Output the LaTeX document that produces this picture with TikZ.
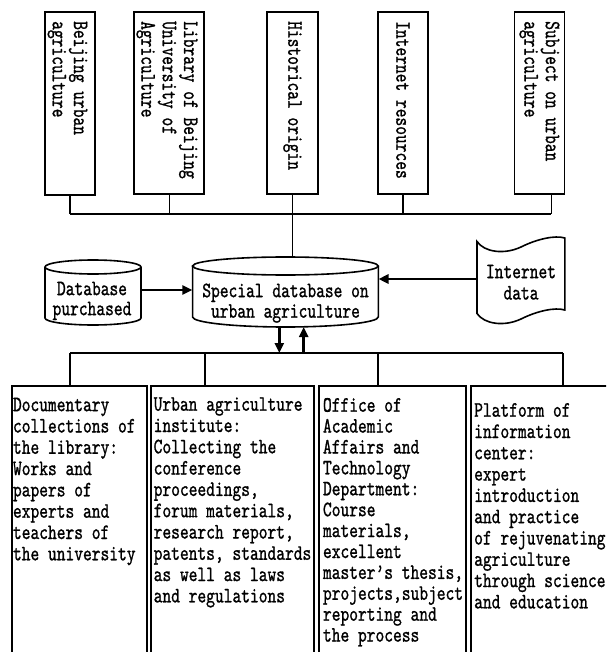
\documentclass[tikz,border=0pt]{standalone}
\usepackage{graphicx}
\usepackage{fontspec}
\newfontfamily\dfont{lmmono10-regular}[Extension=.otf,FakeStretch=0.758,FakeBold=1]
\usetikzlibrary{arrows.meta,calc}
\tikzset{
  topbox/.style={draw, line width=1.8pt, inner sep=0pt, minimum height=182pt},
  botbox/.style={draw, line width=1.8pt, inner sep=0pt, anchor=north west, minimum height=290pt},
  conn/.style={line width=1.4pt},
  fat/.style={line width=2.8pt, -{Triangle[length=10pt,width=9pt]}},
  txt/.style={inner sep=0pt, font={\dfont\fontsize{22}{21.3}\selectfont}},
  cyl/.style={line width=1.6pt},
  hold/.style={inner sep=0pt, draw=none},
}
\begin{document}
\begin{tikzpicture}[x=1pt,y=-1pt]
\useasboundingbox (0,0) rectangle (606,652);
\clip (0,0) rectangle (606,652);

% ---- top source boxes
\node[topbox, minimum width=49.5pt, minimum height=183pt] (b1) at (70.05,103.5) {};
\node[topbox, minimum width=70.1pt] (b2) at (169.25,103) {};
\node[topbox, minimum width=51.1pt] (b3) at (292.45,103) {};
\node[topbox, minimum width=49.9pt] (b4) at (402.95,103) {};
\node[topbox, minimum width=49.9pt] (b5) at (539.45,103) {};

\node[txt, anchor=north] (t1) at (67.5,21) {\rotatebox{-90}{\parbox{170pt}{\raggedright Beijing urban\\agriculture}}};
\node[txt, anchor=north] (t2) at (167,21) {\rotatebox{-90}{\parbox{170pt}{\raggedright Library of Beijing\\University of\\Agriculture}}};
\node[txt, anchor=north] (t3) at (292.45,21) {\rotatebox{-90}{\parbox{170pt}{\raggedright Historical origin}}};
\node[txt, anchor=north] (t4) at (402.95,21) {\rotatebox{-90}{\parbox{170pt}{\raggedright Internet resources}}};
\node[txt, anchor=north] (t5) at (539.45,21) {\rotatebox{-90}{\parbox{170pt}{\raggedright Subject on urban\\agriculture}}};

% ---- top bus
\coordinate (tbL) at (70,214);
\coordinate (tbR) at (551.2,214);
\coordinate (b5c) at ([xshift=11.75pt]b5.south);
\draw[conn] (b1.south) -- (b1.south |- tbL);
\draw[conn] (b2.south) -- (b2.south |- tbL);
\draw[conn] (b4.south) -- (b4.south |- tbL);
\draw[conn] (b5c) -- (b5c |- tbL);
\draw[conn] (tbL) -- (tbR);

% ---- holders for the middle shapes
\node[hold, minimum width=185.7pt, minimum height=70pt] (sdb) at (285.45,292) {};
\node[hold, minimum width=96pt, minimum height=60pt] (dbp) at (93,290) {};
\node[hold, minimum width=87.8pt, minimum height=72pt] (idata) at (521,279) {};

\draw[conn] (b3.south) -- (b3.south |- sdb.north);

% main cylinder
\draw[cyl] (192.6,266) -- (192.6,317) .. controls (192.6,322.52) and (234.17,327) .. (285.45,327)
  .. controls (336.73,327) and (378.3,322.52) .. (378.3,317) -- (378.3,266);
\draw[cyl] (285.45,266) ellipse [x radius=92.85, y radius=9];
% left cylinder
\draw[cyl] (45,267) -- (45,318) .. controls (45,321.87) and (66.49,325) .. (93,325)
  .. controls (119.51,325) and (141,321.87) .. (141,318) -- (141,267);
\draw[cyl] (93,267) ellipse [x radius=48, y radius=7];
% tape
\draw[cyl] (477,241.5) .. controls (484,252) and (504,255) .. (521,247)
  .. controls (537,239) and (555,235) .. (564.8,238) -- (564.8,310)
  .. controls (555,307) and (537,311) .. (521,319)
  .. controls (504,327) and (484,324) .. (477,313.5) -- cycle;

\node[txt, anchor=north, align=center, font={\dfont\fontsize{22}{20.5}\selectfont}] (tsdb) at (285.5,282) {\rule{0pt}{15pt}Special database on\\urban agriculture};
\node[txt, anchor=north, align=center, font={\dfont\fontsize{22}{20}\selectfont}] (tdbp) at (92,280) {\rule{0pt}{15pt}Database\\purchased};
\node[txt, anchor=north, align=center] (tid) at (521,263) {\rule{0pt}{15pt}Internet\\data};

\draw[fat] (dbp.east) -- (sdb.west |- dbp.east);
\draw[fat] (idata.west) -- (idata.west -| sdb.east);

% ---- bottom bus and arrows
\coordinate (busL) at (70,353);
\coordinate (busR) at (563,353);
\coordinate (vB) at (205,353);
\coordinate (vC) at (378,353);
\coordinate (dtop) at (279.3,327);
\coordinate (utop) at (303.7,327);
\draw[conn] (busL) -- (busR);
\draw[fat] (dtop) -- (dtop |- busL);
\draw[fat] (utop |- busL) -- (utop);

% ---- bottom boxes
\node[botbox, minimum width=134.7pt] (A) at (11.3,385) {};
\node[botbox, minimum width=163.3pt] (B) at (150,385) {};
\node[botbox, minimum width=146.7pt] (C) at (318.3,385) {};
\node[botbox, minimum width=150pt] (D) at (470,385) {};

\draw[conn] (busL) -- (busL |- A.north);
\draw[conn] (vB) -- (vB |- B.north);
\draw[conn] (vC) -- (vC |- C.north);
\draw[conn] (busR) -- (busR |- D.north);

\node[txt, anchor=north west, align=left] (tA) at (12.8,396) {\rule{0pt}{15pt}Documentary\\collections of\\the library:\\Works and\\papers of\\experts and\\teachers of\\the university};
\node[txt, anchor=north west, align=left] (tB) at (153.5,395.5) {\rule{0pt}{15pt}Urban agriculture\\institute:\\Collecting the\\conference\\proceedings,\\forum materials,\\research report,\\patents, standards\\as well as laws\\and regulations};
\node[txt, anchor=north west, align=left, font={\dfont\fontsize{22}{20.9}\selectfont}] (tC) at (322.8,396.5) {\rule{0pt}{15pt}Office of\\Academic\\Affairs and\\Technology\\Department:\\Course\\materials,\\excellent\\master’s thesis,\\projects,subject\\reporting and\\the process};
\node[txt, anchor=north west, align=left] (tD) at (474,401.5) {\rule{0pt}{15pt}Platform of\\information\\center:\\expert\\introduction\\and practice\\of rejuvenating\\agriculture\\through science\\and education};
\end{tikzpicture}
\end{document}
